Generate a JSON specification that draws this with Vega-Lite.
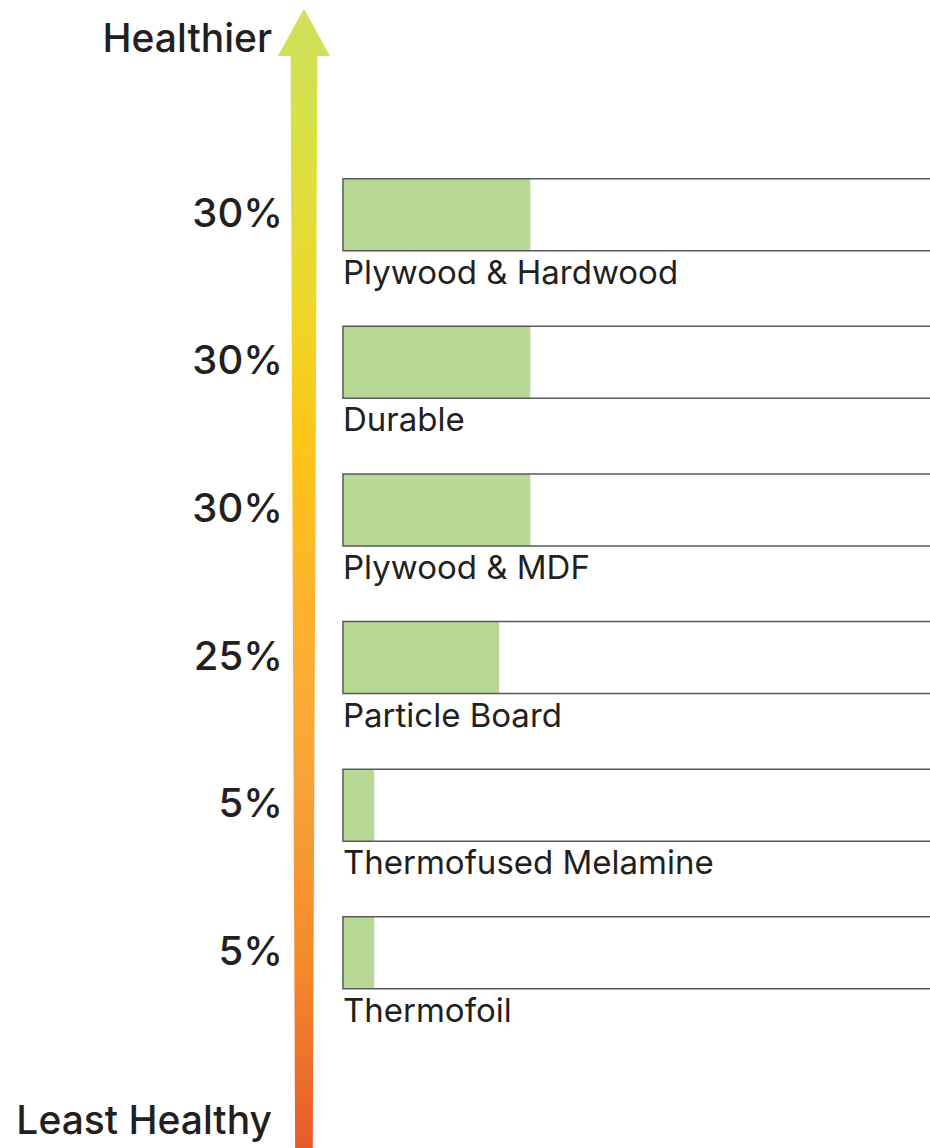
{
  "$schema": "https://vega.github.io/schema/vega-lite/v6.json",
  "width": 930,
  "height": 1148,
  "autosize": {"type": "none"},
  "padding": 0,
  "background": "white",
  "config": {"view": {"stroke": null}, "text": {"font": "Inter", "color": "#231f20"}},
  "data": {"values": [
    {"material": "Plywood & Hardwood", "order": 1, "share": 0.30},
    {"material": "Durable", "order": 2, "share": 0.30},
    {"material": "Plywood & MDF", "order": 3, "share": 0.30},
    {"material": "Particle Board", "order": 4, "share": 0.25},
    {"material": "Thermofused Melamine", "order": 5, "share": 0.05},
    {"material": "Thermofoil", "order": 6, "share": 0.05}
  ]},
  "layer": [
    {
      "data": {"values": [{"scale": "health"}]},
      "mark": {
        "type": "point",
        "filled": true,
        "opacity": 1,
        "strokeWidth": 0,
        "size": 1299600,
        "shape": "M0,-1 L0.0456,-0.9175 L0.0235,-0.9175 L0.0155,1 L-0.0155,1 L-0.0235,-0.9175 L-0.0456,-0.9175 Z",
        "fill": {
          "gradient": "linear", "x1": 0, "y1": 0, "x2": 0, "y2": 1,
          "stops": [
            {"offset": 0, "color": "#cfde5e"},
            {"offset": 0.1, "color": "#d6e246"},
            {"offset": 0.27, "color": "#efd628"},
            {"offset": 0.39, "color": "#fcc416"},
            {"offset": 0.52, "color": "#fdb32e"},
            {"offset": 0.67, "color": "#f9a438"},
            {"offset": 0.84, "color": "#f48a2a"},
            {"offset": 1, "color": "#e65a2a"}
          ]
        }
      },
      "encoding": {
        "x": {"datum": -0.0625, "type": "quantitative", "scale": {"domain": [-0.5492, 0.94], "nice": false, "zero": false}, "axis": null},
        "y": {"datum": 3.467, "type": "quantitative", "scale": {"domain": [-0.421, 7.289], "nice": false, "zero": false, "reverse": true}, "axis": null}
      }
    },
    {
      "mark": {"type": "bar", "orient": "horizontal", "size": 72, "color": "#b8d996"},
      "encoding": {
        "x": {"field": "share", "type": "quantitative", "scale": {"domain": [-0.5492, 0.94], "nice": false, "zero": false}, "axis": null},
        "y": {"field": "order", "type": "quantitative", "scale": {"domain": [-0.421, 7.289], "nice": false, "zero": false, "reverse": true}, "axis": null}
      }
    },
    {
      "mark": {"type": "bar", "orient": "horizontal", "size": 72, "fill": "transparent", "stroke": "#58595b", "strokeWidth": 1.5, "clip": true},
      "encoding": {
        "x": {"datum": 0.97, "type": "quantitative", "scale": {"domain": [-0.5492, 0.94], "nice": false, "zero": false}, "axis": null},
        "y": {"field": "order", "type": "quantitative", "scale": {"domain": [-0.421, 7.289], "nice": false, "zero": false, "reverse": true}, "axis": null}
      }
    },
    {
      "mark": {"type": "text", "align": "right", "baseline": "middle", "dx": -60, "fontSize": 40, "fontWeight": 500},
      "encoding": {
        "x": {"datum": 0, "type": "quantitative", "scale": {"domain": [-0.5492, 0.94], "nice": false, "zero": false}, "axis": null},
        "y": {"field": "order", "type": "quantitative", "scale": {"domain": [-0.421, 7.289], "nice": false, "zero": false, "reverse": true}, "axis": null},
        "text": {"field": "share", "type": "quantitative", "format": ".0%"}
      }
    },
    {
      "mark": {"type": "text", "align": "left", "baseline": "middle", "dy": 59, "fontSize": 33, "fontWeight": 400},
      "encoding": {
        "x": {"datum": 0, "type": "quantitative", "scale": {"domain": [-0.5492, 0.94], "nice": false, "zero": false}, "axis": null},
        "y": {"field": "order", "type": "quantitative", "scale": {"domain": [-0.421, 7.289], "nice": false, "zero": false, "reverse": true}, "axis": null},
        "text": {"field": "material", "type": "nominal"}
      }
    },
    {
      "data": {"values": [{"label": "Healthier"}]},
      "mark": {"type": "text", "align": "right", "baseline": "middle", "dx": -71, "fontSize": 39, "fontWeight": 500},
      "encoding": {
        "x": {"datum": 0, "type": "quantitative", "scale": {"domain": [-0.5492, 0.94], "nice": false, "zero": false}, "axis": null},
        "y": {"datum": -0.186, "type": "quantitative", "scale": {"domain": [-0.421, 7.289], "nice": false, "zero": false, "reverse": true}, "axis": null},
        "text": {"field": "label", "type": "nominal"}
      }
    },
    {
      "data": {"values": [{"label": "Least Healthy"}]},
      "mark": {"type": "text", "align": "right", "baseline": "middle", "dx": -71, "fontSize": 39, "fontWeight": 500},
      "encoding": {
        "x": {"datum": 0, "type": "quantitative", "scale": {"domain": [-0.5492, 0.94], "nice": false, "zero": false}, "axis": null},
        "y": {"datum": 7.148, "type": "quantitative", "scale": {"domain": [-0.421, 7.289], "nice": false, "zero": false, "reverse": true}, "axis": null},
        "text": {"field": "label", "type": "nominal"}
      }
    }
  ]
}
